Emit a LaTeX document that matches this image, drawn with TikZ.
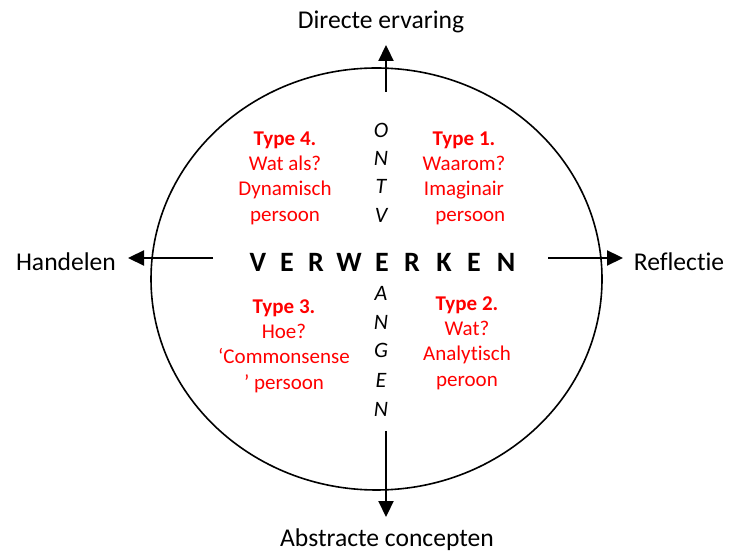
\documentclass[tikz,border=0pt]{standalone}
\usepackage{fontspec}
\setmainfont[Ligatures=CommonOff]{Carlito}
\usetikzlibrary{arrows.meta}

\tikzset{
  axis arrow/.style={line width=1.1pt,-{Triangle[length=8pt,width=7.5pt]}},
  pole/.style={font=\fontsize{12.8}{15}\selectfont},
  typebox/.style={text=red,align=center,inner sep=0pt,font=\fontsize{10.5}{12.7}\selectfont},
  vletter/.style={inner sep=0pt,font=\fontsize{11}{13}\selectfont\itshape},
  hletter/.style={inner sep=0pt,font=\fontsize{14}{16}\selectfont\bfseries},
}

\begin{document}
\begin{tikzpicture}[x=0.5pt,y=0.5pt]
\useasboundingbox (0,0) rectangle (732,556);
\draw[line width=0.8pt] (376.5,277) ellipse (112.75pt and 105.5pt);

% the four poles
\node[pole] (direct) at (381,534) {Directe ervaring};
\node[pole] (abstract) at (387,16) {Abstracte concepten};
\node[pole] (act) at (66,294) {Handelen};
\node[pole] (reflect) at (679,294) {Reflectie};

\coordinate (top in) at (386,464);
\coordinate (top out) at (386,511);
\coordinate (bottom in) at (386,125);
\coordinate (bottom out) at (386,39);
\coordinate (left in) at (213,298);
\coordinate (left out) at (128,298);
\coordinate (right in) at (548,298);
\coordinate (right out) at (623,298);

\draw[axis arrow] (top in) -- (top out);
\draw[axis arrow] (bottom in) -- (bottom out);
\draw[axis arrow] (left in) -- (left out);
\draw[axis arrow] (right in) -- (right out);

% verwerken / ontvangen
\foreach \l/\x [count=\i] in {V/258,E/287,R/316,W/349,E/382,R/412,K/444,E/474,N/506}
  \node[hletter] (h\i) at (\x,294) {\l};
\foreach \l/\y [count=\i] in {O/426,N/398,T/370,V/341}
  \node[vletter] (o\i) at (381,\y) {\l};
\foreach \l/\y [count=\i] in {A/263,N/234,G/206,E/176,N/147}
  \node[vletter] (a\i) at (381,\y) {\l};

% the four types
\node[typebox] (t4) at (285,378) {\textbf{Type 4.}\\Wat als?\\Dynamisch\\persoon};
\node[typebox] (t1) at (464,378) {\textbf{Type 1.}\\Waarom?\\Imaginair\\\hspace*{0.6em}persoon};
\node[typebox] (t3) at (284,210) {\textbf{Type 3.}\\Hoe?\\‘Commonsense\\’ persoon};
\node[typebox] (t2) at (467,213) {\textbf{Type 2.}\\Wat?\\Analytisch\\peroon};
\end{tikzpicture}
\end{document}
